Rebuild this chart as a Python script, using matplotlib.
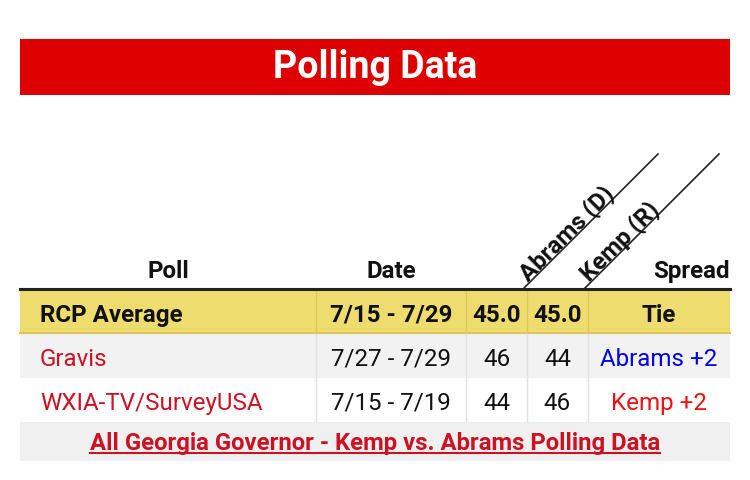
import matplotlib.pyplot as plt
from matplotlib.patches import Rectangle

plt.rcParams['font.family'] = ['Roboto', 'DejaVu Sans']

# table content
title = 'Polling Data'
headers = ['Poll', 'Date', 'Abrams (D)', 'Kemp (R)', 'Spread']
polls = ['RCP Average', 'Gravis', 'WXIA-TV/SurveyUSA']
dates = ['7/15 - 7/29', '7/27 - 7/29', '7/15 - 7/19']
abrams = ['45.0', '46', '44']
kemp = ['45.0', '44', '46']
spreads = ['Tie', 'Abrams +2', 'Kemp +2']
footer = 'All Georgia Governor - Kemp vs. Abrams Polling Data'

# layout (pixels)
W, H = 750, 481
left, right = 20, 730
col_edges = [20, 316, 466, 527, 588, 730]
row_tops = [291, 335, 379]
row_h = 44
row_bg = ['#eedc6e', '#f2f2f2', '#ffffff']
row_grid = ['#dcc85a', '#e2e2e2', '#e2e2e2']
spread_colors = ['#111111', '#0000ee', '#ee1111']
poll_colors = ['#111111', '#cc1122', '#cc1122']
fs = 17.4

fig = plt.figure(figsize=(W / 100, H / 100), dpi=100)
ax = fig.add_axes([0, 0, 1, 1])
ax.set_xlim(0, W)
ax.set_ylim(H, 0)
ax.axis('off')

# red banner
ax.add_patch(Rectangle((left, 40), right - left, 56, color='#dd0000', lw=0))
ax.text((left + right) / 2, 68, title, color='white', fontsize=27,
        fontweight='bold', ha='center', va='center')

# header
ax.text((col_edges[0] + col_edges[1]) / 2, 278, headers[0], fontsize=fs,
        fontweight='bold', ha='center', va='baseline', color='#111111')
ax.text((col_edges[1] + col_edges[2]) / 2, 278, headers[1], fontsize=fs,
        fontweight='bold', ha='center', va='baseline', color='#111111')
ax.text(right, 278, headers[4], fontsize=fs, fontweight='bold',
        ha='right', va='baseline', color='#111111')
for x0, lab in [(col_edges[3], headers[2]), (col_edges[4], headers[3])]:
    ax.plot([x0 - 3, x0 + 131], [289, 155], color='#222222', lw=1.2)
    ax.text(x0 + 1, 282, lab, fontsize=fs, fontweight='bold', rotation=45,
            rotation_mode='anchor', ha='left', va='baseline', color='#111111')

# rows
for i in range(3):
    top = row_tops[i]
    ax.add_patch(Rectangle((left, top), right - left, row_h, color=row_bg[i], lw=0))
    for x in col_edges[1:-1]:
        ax.plot([x, x], [top, top + row_h], color=row_grid[i], lw=1)
    yc = top + row_h / 2
    wt = 'bold' if i == 0 else 'normal'
    ax.text(40, yc, polls[i], fontsize=fs, fontweight=wt, color=poll_colors[i],
            ha='left', va='center_baseline')
    cells = [dates[i], abrams[i], kemp[i]]
    for j, val in enumerate(cells):
        xc = (col_edges[j + 1] + col_edges[j + 2]) / 2
        ax.text(xc, yc, val, fontsize=fs, fontweight=wt, color='#111111',
                ha='center', va='center_baseline')
    ax.text((col_edges[4] + col_edges[5]) / 2, yc, spreads[i], fontsize=fs,
            fontweight=wt, color=spread_colors[i], ha='center', va='center_baseline')
ax.plot([left, right], [334, 334], color='#dcc85a', lw=1.5)
ax.plot([left, right], [289.5, 289.5], color='#222222', lw=2.2)

# footer
ax.add_patch(Rectangle((left, 423), right - left, 39, color='#f0f0f0', lw=0))
t = ax.text((left + right) / 2, 441, footer, fontsize=17.2, fontweight='bold',
            color='#cc1122', ha='center', va='center_baseline')
fig.canvas.draw()
bb = t.get_window_extent(fig.canvas.get_renderer())
x0, y0 = ax.transData.inverted().transform((bb.x0, bb.y0))
x1, _ = ax.transData.inverted().transform((bb.x1, bb.y0))
ax.plot([x0, x1], [y0 - 1, y0 - 1], color='#cc1122', lw=1.5)

fig.savefig('out.png', dpi=100)
